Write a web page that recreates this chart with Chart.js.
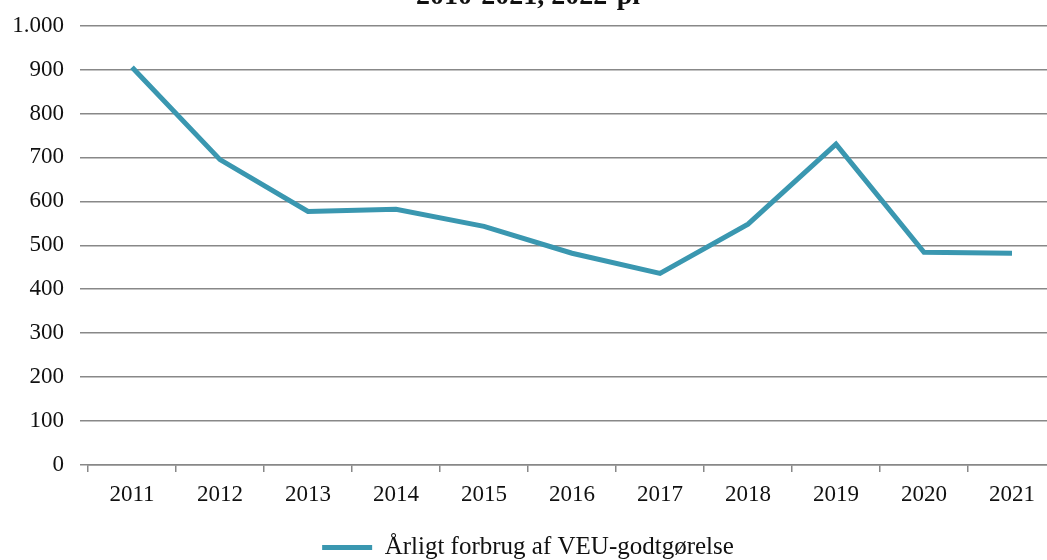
<!DOCTYPE html>
<html>
<head>
<meta charset="utf-8">
<script src="https://cdn.jsdelivr.net/npm/chart.js@4/dist/chart.umd.min.js"></script>
<style>
  html, body { margin: 0; padding: 0; background: #fff; overflow: hidden; }
  #wrap { position: absolute; left: 0; top: -20px; width: 1080px; height: 590px; }
</style>
</head>
<body>
<div id="wrap"><canvas id="Chart1"></canvas></div>
<script>
const years = ['2011', '2012', '2013', '2014', '2015', '2016', '2017', '2018', '2019', '2020', '2021'];
const forbrug = [905, 695, 577, 582, 543, 482, 436, 548, 730, 484, 482];
const seriesLabel = 'Årligt forbrug af VEU-godtgørelse';
const titleText = '2010-2021, 2022-pl';

const fmt = (v) => String(v).replace(/\B(?=(\d{3})+(?!\d))/g, '.');

const ctx = document.getElementById('Chart1').getContext('2d');
new Chart(ctx, {
    type: 'line',
    data: {
        labels: years,
        datasets: [{
            label: seriesLabel,
            data: forbrug,
            borderColor: '#3a97b0',
            backgroundColor: '#3a97b0',
            borderWidth: 5,
            pointRadius: 0,
            tension: 0
        }]
    },
    options: {
        responsive: true,
        maintainAspectRatio: false,
        animation: false,
        layout: { padding: { left: 0, right: 24, top: 0, bottom: 0 } },
        scales: {
            x: {
                offset: true,
                grid: { offset: true, drawOnChartArea: false, tickLength: 7, color: '#888', lineWidth: 1.5 },
                border: { display: true, color: '#888', width: 1.5 },
                ticks: { color: '#111', padding: 9, font: { family: 'Liberation Serif', size: 23 } },
                afterFit: (scale) => { scale.height = 60; }
            },
            y: {
                min: 0,
                max: 1000,
                ticks: {
                    stepSize: 100,
                    color: '#111',
                    padding: 16,
                    font: { family: 'Liberation Serif', size: 23 },
                    callback: (v) => fmt(v)
                },
                grid: { color: '#888', lineWidth: 1.5, tickLength: 8 },
                border: { display: false },
                afterFit: (scale) => { scale.width = 88; }
            }
        },
        plugins: {
            title: {
                display: true,
                text: titleText,
                color: '#111',
                font: { family: 'Liberation Serif', size: 28, weight: 'bold' },
                padding: { top: 0, bottom: 12 }
            },
            legend: {
                position: 'bottom',
                labels: {
                    usePointStyle: true,
                    pointStyle: 'line',
                    pointStyleWidth: 50,
                    color: '#111',
                    padding: 10,
                    font: { family: 'Liberation Serif', size: 25 }
                }
            },
            tooltip: { enabled: false }
        }
    }
});
</script>
</body>
</html>
